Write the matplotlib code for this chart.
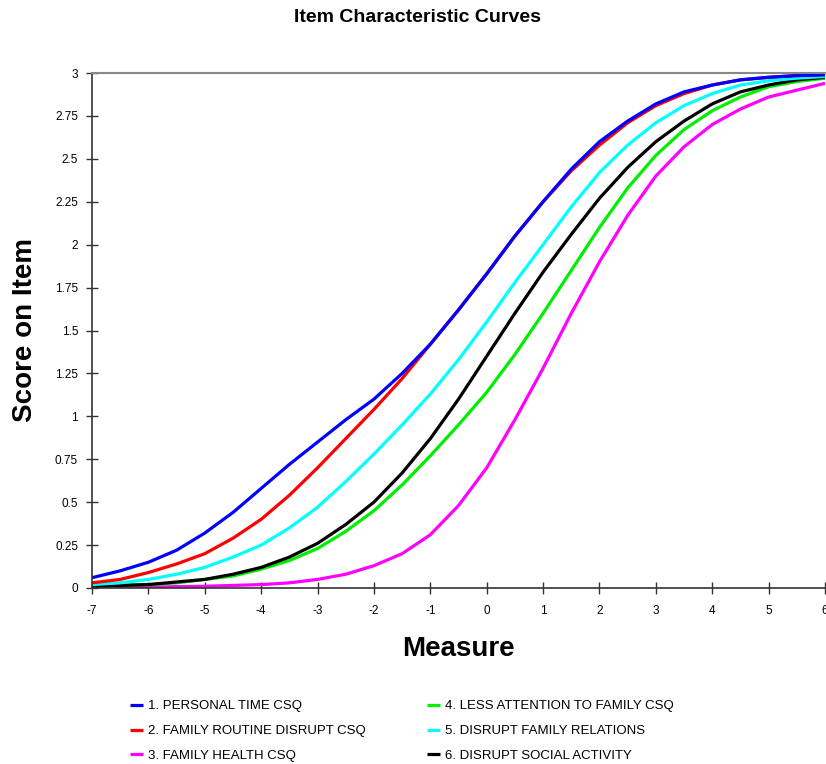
import matplotlib.pyplot as plt
import numpy as np

plt.rcParams['font.family'] = ['Liberation Sans', 'DejaVu Sans']
plt.rcParams['axes.unicode_minus'] = False

# Measure values (read every half logit)
measure = np.arange(-7, 6.01, 0.5)

# Expected score curves
personal_time = [0.06, 0.10, 0.15, 0.22, 0.32, 0.44, 0.58, 0.72, 0.85, 0.98, 1.10, 1.25, 1.42, 1.62,
                 1.83, 2.05, 2.25, 2.44, 2.60, 2.72, 2.82, 2.89, 2.93, 2.96, 2.975, 2.985, 2.99]
family_routine = [0.03, 0.05, 0.09, 0.14, 0.20, 0.29, 0.40, 0.54, 0.70, 0.87, 1.04, 1.22, 1.42, 1.62,
                  1.83, 2.05, 2.25, 2.43, 2.58, 2.71, 2.81, 2.88, 2.93, 2.96, 2.975, 2.985, 2.99]
family_health = [0.0, 0.003, 0.005, 0.008, 0.01, 0.015, 0.02, 0.03, 0.05, 0.08, 0.13, 0.20, 0.31, 0.48,
                 0.70, 0.98, 1.28, 1.60, 1.90, 2.17, 2.40, 2.57, 2.70, 2.79, 2.86, 2.90, 2.94]
less_attention = [0.01, 0.015, 0.02, 0.03, 0.05, 0.07, 0.11, 0.16, 0.23, 0.33, 0.45, 0.60, 0.77, 0.95,
                  1.14, 1.36, 1.60, 1.85, 2.10, 2.33, 2.52, 2.67, 2.78, 2.86, 2.92, 2.95, 2.97]
family_relations = [0.02, 0.03, 0.05, 0.08, 0.12, 0.18, 0.25, 0.35, 0.47, 0.62, 0.78, 0.95, 1.13, 1.33,
                    1.55, 1.78, 2.00, 2.22, 2.42, 2.58, 2.71, 2.81, 2.88, 2.93, 2.955, 2.97, 2.98]
social_activity = [0.01, 0.015, 0.02, 0.035, 0.05, 0.08, 0.12, 0.18, 0.26, 0.37, 0.50, 0.67, 0.87, 1.10,
                   1.35, 1.60, 1.84, 2.06, 2.27, 2.45, 2.60, 2.72, 2.82, 2.89, 2.93, 2.96, 2.975]

labels = ["1. PERSONAL TIME CSQ", "2. FAMILY ROUTINE DISRUPT CSQ", "3. FAMILY HEALTH CSQ",
          "4. LESS ATTENTION TO FAMILY CSQ", "5. DISRUPT FAMILY RELATIONS", "6. DISRUPT SOCIAL ACTIVITY"]
series = [personal_time, family_routine, family_health, less_attention, family_relations, social_activity]
colors = ["#0000ff", "#ff0000", "#ff00ff", "#00ee00", "#00ffff", "#000000"]

fig = plt.figure(figsize=(8.26, 7.64), dpi=100)
ax = fig.add_axes([92 / 826, 1 - 588 / 764, 733 / 826, 515 / 764])

# draw order: magenta, green, black, cyan, red, blue on top
for i in [2, 3, 5, 4, 1, 0]:
    ax.plot(measure, series[i], color=colors[i], lw=2.3, label=labels[i], solid_capstyle='butt')

ax.set_xlim(-7, 6)
ax.set_ylim(0, 3)
ax.set_xticks(range(-7, 7))
ax.set_yticks(np.arange(0, 3.01, 0.25))
ax.set_yticklabels(['0', '0.25', '0.5', '0.75', '1', '1.25', '1.5', '1.75', '2', '2.25', '2.5', '2.75', '3'])
ax.tick_params(direction='inout', length=8, width=1, labelsize=8.5, color='#333333')
ax.tick_params(axis='x', pad=8)
ax.tick_params(axis='y', pad=6)

for s in ['left', 'bottom']:
    ax.spines[s].set_color('#333333')
    ax.spines[s].set_linewidth(1.2)
ax.spines['top'].set_color('#888888')
ax.spines['top'].set_linewidth(1.5)
ax.spines['right'].set_visible(False)

ax.set_xlabel("Measure", fontsize=20, fontweight='bold', labelpad=14)
ax.set_ylabel("Score on Item", fontsize=20, fontweight='bold', labelpad=12)
fig.text(0.505, 1 - 18 / 764, "Item Characteristic Curves", ha='center', va='center',
         fontsize=14, fontweight='bold')

handles, labs = ax.get_legend_handles_labels()
order = [labs.index(l) for l in labels]
fig.legend([handles[k] for k in order], [labs[k] for k in order], ncol=2, loc='center left',
           bbox_to_anchor=(118 / 826, 1 - 731 / 764), frameon=False, fontsize=9.5, handlelength=1.0,
           columnspacing=4.6, labelspacing=0.95, handletextpad=0.4)

fig.savefig("out.png", dpi=100)
